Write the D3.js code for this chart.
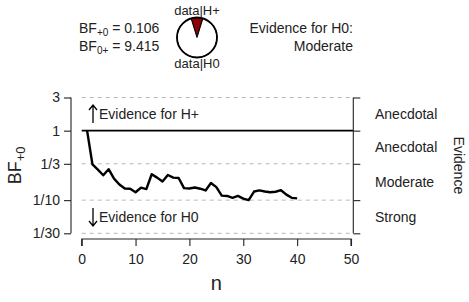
<!DOCTYPE html>
<html><head><meta charset="utf-8">
<script src="https://cdn.jsdelivr.net/npm/d3@7"></script>
<style>body{margin:0;background:#fff}svg{display:block;font-family:"Liberation Sans",Arial,sans-serif}</style>
</head><body><svg id="c" width="469" height="302"></svg>
<script>
const nValues = d3.range(1, 41);
const bfValues = [1.000,0.326,0.275,0.228,0.279,0.204,0.168,0.147,0.146,0.130,
  0.151,0.144,0.236,0.211,0.186,0.230,0.211,0.208,0.149,0.147,
  0.152,0.146,0.138,0.176,0.154,0.116,0.115,0.108,0.115,0.105,
  0.100,0.133,0.138,0.133,0.130,0.132,0.139,0.120,0.108,0.106];
const yTickValues = [1/30, 1/10, 1/3, 1, 3];
const yTickLabels = ["1/30", "1/10", "1/3", "1", "3"];
const xTickValues = [0, 10, 20, 30, 40, 50];
const evidenceLabels = ["Strong", "Moderate", "Anecdotal", "Anecdotal"];
const bf10 = 0.106, bf01 = 9.415;

const svg = d3.select("#c");
const x = d3.scaleLinear().domain([0, 50]).range([81.7, 351]);
const y = d3.scaleLog().domain([1/30, 3]).range([233.3, 97.5]);
const fs = 14;

// gridlines
svg.append("g").selectAll("line").data(yTickValues.filter(v => Math.abs(v-1) > 1e-9)).join("line")
  .attr("x1", x(0)).attr("x2", x(50)).attr("y1", d => y(d)).attr("y2", d => y(d))
  .attr("stroke", "#b8b8b8").attr("stroke-width", 1).attr("stroke-dasharray", "4,4");
svg.append("line").attr("x1", x(0)).attr("x2", 353.3).attr("y1", y(1)).attr("y2", y(1))
  .attr("stroke", "#000").attr("stroke-width", 1.6);

// left axis
const yAxis = d3.axisLeft(y).tickValues(yTickValues).tickFormat((d, i) => yTickLabels[i]).tickSize(7).tickPadding(4);
const gl = svg.append("g").attr("transform", "translate(71,0)").call(yAxis);
gl.select(".domain").attr("stroke", "#222").attr("stroke-width", 1.1).attr("d", `M-0,${y(3)}V${y(1/30)}`);
gl.selectAll(".tick line").attr("stroke", "#222").attr("stroke-width", 1.1);
gl.selectAll("text").attr("font-size", fs).attr("fill", "#222").attr("font-family", "Liberation Sans, Arial, sans-serif");

// right axis
const yAxisR = d3.axisRight(y).tickValues(yTickValues).tickFormat("").tickSize(7);
const gr = svg.append("g").attr("transform", "translate(353.3,0)").call(yAxisR);
gr.select(".domain").attr("stroke", "#222").attr("stroke-width", 1.1).attr("d", `M0,${y(3)}V${y(1/30)}`);
gr.selectAll(".tick line").attr("stroke", "#222").attr("stroke-width", 1.1);
const mids = [];
for (let i = 0; i < yTickValues.length - 1; i++) mids.push(Math.sqrt(yTickValues[i] * yTickValues[i+1]));
svg.append("g").selectAll("text").data(mids).join("text")
  .attr("x", 375).attr("y", d => y(d)).attr("dy", "0.35em")
  .attr("font-size", fs).attr("fill", "#222").text((d, i) => evidenceLabels[i]);
svg.append("text").attr("transform", `translate(454,${(y(3)+y(1/30))/2}) rotate(90)`)
  .attr("text-anchor", "middle").attr("font-size", fs).attr("fill", "#222").text("Evidence");

// x axis
const xAxis = d3.axisBottom(x).tickValues(xTickValues).tickSize(7).tickPadding(8);
const gx = svg.append("g").attr("transform", "translate(0,239)").call(xAxis);
gx.select(".domain").attr("stroke", "#222").attr("stroke-width", 1.1).attr("d", `M${x(0)},7V0H${x(50)}V7`);
gx.selectAll(".tick line").attr("stroke", "#222").attr("stroke-width", 1.1);
gx.selectAll("text").attr("font-size", fs).attr("fill", "#222").attr("font-family", "Liberation Sans, Arial, sans-serif");

// axis titles
svg.append("text").attr("x", (x(0)+x(50))/2).attr("y", 290).attr("text-anchor", "middle")
  .attr("font-size", 20).attr("fill", "#222").text("n");
const yl = svg.append("text").attr("transform", `translate(21,${y(Math.sqrt(1/30*3))}) rotate(-90)`)
  .attr("text-anchor", "middle").attr("font-size", 18).attr("fill", "#222");
yl.append("tspan").text("BF");
yl.append("tspan").attr("font-size", 13).attr("dy", 4).text("+0");

// data line
svg.append("path").datum(nValues.map((n, i) => [n, bfValues[i]]))
  .attr("fill", "none").attr("stroke", "#000").attr("stroke-width", 2.4).attr("stroke-linejoin", "round")
  .attr("d", d3.line().x(d => x(d[0])).y(d => y(d[1])));

// arrows + annotations
function arrow(cx, y0, y1) {
  const dir = y1 < y0 ? 1 : -1;
  svg.append("path").attr("d", `M${cx},${y0}V${y1}M${cx-4},${y1+dir*5}L${cx},${y1}L${cx+4},${y1+dir*5}`)
    .attr("fill", "none").attr("stroke", "#000").attr("stroke-width", 1.3);
}
arrow(93, 123, 105);
arrow(93, 208, 226);
svg.append("text").attr("x", 99).attr("y", 114).attr("dy", "0.35em").attr("font-size", fs).attr("fill", "#222").text("Evidence for H+");
svg.append("text").attr("x", 99).attr("y", 217).attr("dy", "0.35em").attr("font-size", fs).attr("fill", "#222").text("Evidence for H0");

// top-left BF text
const t1 = svg.append("text").attr("x", 79).attr("y", 33).attr("font-size", fs).attr("fill", "#222");
t1.append("tspan").text("BF");
t1.append("tspan").attr("font-size", 10).attr("dy", 3).text("+0");
t1.append("tspan").attr("dy", -3).text(" = " + bf10.toFixed(3));
const t2 = svg.append("text").attr("x", 79).attr("y", 51).attr("font-size", fs).attr("fill", "#222");
t2.append("tspan").text("BF");
t2.append("tspan").attr("font-size", 10).attr("dy", 3).text("0+");
t2.append("tspan").attr("dy", -3).text(" = " + bf01.toFixed(3));

// pie
const pcx = 197, pcy = 37.5, pr = 20;
const pData = [bf10 / (1 + bf10), 1 / (1 + bf10)];
const pie = d3.pie().sort(null).startAngle(-Math.PI * pData[0]).endAngle(2 * Math.PI - Math.PI * pData[0]);
const arcs = pie(pData);
const arc = d3.arc().innerRadius(0).outerRadius(pr);
const pg = svg.append("g").attr("transform", `translate(${pcx},${pcy})`);
pg.selectAll("path").data(arcs).join("path").attr("d", arc)
  .attr("fill", (d, i) => i === 0 ? "#8b0000" : "#fff").attr("stroke", "#000").attr("stroke-width", 1);
pg.append("circle").attr("r", pr).attr("fill", "none").attr("stroke", "#000").attr("stroke-width", 1.8);
svg.append("text").attr("x", pcx).attr("y", 14.5).attr("text-anchor", "middle").attr("font-size", 13).attr("fill", "#222").text("data|H+");
svg.append("text").attr("x", pcx).attr("y", 68).attr("text-anchor", "middle").attr("font-size", 13).attr("fill", "#222").text("data|H0");

// evidence text
svg.append("text").attr("x", 353).attr("y", 33).attr("text-anchor", "end").attr("font-size", fs).attr("fill", "#222").text("Evidence for H0:");
svg.append("text").attr("x", 353).attr("y", 51).attr("text-anchor", "end").attr("font-size", fs).attr("fill", "#222").text("Moderate");
</script></body></html>
